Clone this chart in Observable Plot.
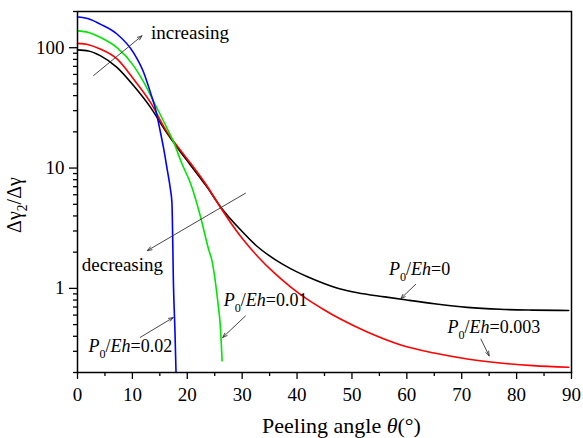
<!DOCTYPE html>
<html>
<head>
<meta charset="utf-8">
<script src="https://cdn.jsdelivr.net/npm/d3@7"></script>
<script src="https://cdn.jsdelivr.net/npm/@observablehq/plot@0.6"></script>
<style>
  body { margin: 0; background: #fff; }
  #chart svg { display: block; }
  #chart svg, #chart svg text, #chart svg tspan { font-family: "Liberation Serif", "Times New Roman", "DejaVu Serif", serif !important; }
</style>
</head>
<body>
<div id="chart"></div>
<script>
// ---- data ----
const seriesNames = ["P0/Eh=0", "P0/Eh=0.003", "P0/Eh=0.01", "P0/Eh=0.02"];
const seriesColors = ["#000000", "#ff0000", "#00e600", "#0000ff"];

const angleEh0 = [0, 2, 4.14, 7.19, 10.2, 13.27, 16.3, 18, 20.57, 23.6, 26, 29.7, 32.7, 35.8, 38.8, 41.9, 44.9, 47.9, 51, 56, 60, 65, 71, 77, 83, 89.5];
const ratioEh0 = [96, 94, 86, 68.7, 48.5, 32.1, 19.5, 15.2, 10.6, 6.95, 4.8, 3.07, 2.24, 1.76, 1.46, 1.25, 1.1, 0.99, 0.92, 0.85, 0.8, 0.745, 0.695, 0.67, 0.66, 0.655];

const angleEh0003 = [0, 2, 4.14, 7.19, 10.2, 13.27, 16.3, 18, 20.57, 23.6, 26, 29.7, 32.7, 35.8, 38.8, 41.9, 44.9, 47.9, 52.8, 58.9, 65, 71, 77, 83, 89.5];
const ratioEh0003 = [108.6, 106, 97.5, 80.7, 55, 35.3, 20, 15.6, 11.0, 7.1, 4.75, 2.71, 1.87, 1.35, 1.03, 0.81, 0.665, 0.556, 0.434, 0.339, 0.29, 0.259, 0.24, 0.228, 0.221];

const angleEh001 = [0, 2, 4.14, 7.19, 10.2, 12.04, 13.9, 16.3, 17.5, 19.05, 20.57, 22.4, 23.9, 24.5, 25.1, 25.6, 26.0, 26.35];
const ratioEh001 = [138, 134, 122, 100, 71, 52, 35.5, 21.5, 16.5, 10.8, 7.5, 3.96, 2.1, 1.7, 1.15, 0.75, 0.5, 0.25];

const angleEh002 = [0, 2, 4.14, 7.19, 10.2, 12.04, 13.27, 14.2, 15.0, 15.7, 16.3, 16.9, 17.2, 17.5, 17.75, 17.95];
const ratioEh002 = [180, 174, 157, 130, 91, 62.5, 42.7, 31, 21, 14.5, 10, 6.8, 5.2, 1.0, 0.45, 0.2];

const xMajorTicks = [0, 10, 20, 30, 40, 50, 60, 70, 80, 90];
const xMinorTicks = [5, 15, 25, 35, 45, 55, 65, 75, 85];
const yMajorTicks = [1, 10, 100];
const yMinorTicks = [0.2, 0.3, 0.4, 0.5, 0.6, 0.7, 0.8, 0.9, 2, 3, 4, 5, 6, 7, 8, 9, 20, 30, 40, 50, 60, 70, 80, 90, 200];

// annotation texts ( *..* italic, {..} subscript )
const noteTexts = ["increasing", "decreasing"];
const noteX = [13.39, 0.78];
const noteY = [132.5, 1.558];

const labelTexts = ["*P*{0}/*Eh*=0.02", "*P*{0}/*Eh*=0.01", "*P*{0}/*Eh*=0", "*P*{0}/*Eh*=0.003"];
const labelX = [2.0, 26.64, 56.75, 67.4];
const labelY = [0.3285, 0.797, 1.43, 0.474];

// arrows: start -> end (head at end)
const arrowX1 = [2.92, 30.6, 11.44, 30.6, 61.6, 73.5];
const arrowY1 = [58.7, 6.18, 0.392, 0.59, 1.08, 0.379];
const arrowX2 = [11.75, 12.72, 17.45, 26.45, 58.9, 75.0];
const arrowY2 = [125.6, 2.06, 0.573, 0.391, 0.822, 0.275];

// ---- build tables ----
const angles = [angleEh0, angleEh0003, angleEh001, angleEh002];
const ratios = [ratioEh0, ratioEh0003, ratioEh001, ratioEh002];
const rows = [];
seriesNames.forEach((s, k) => angles[k].forEach((a, i) => rows.push({series: s, angle: a, ratio: ratios[k][i]})));
const notes = noteTexts.map((t, i) => ({t, x: noteX[i], y: noteY[i]}));
const labels = labelTexts.map((t, i) => ({t, x: labelX[i], y: labelY[i]}));
const arrows = arrowX1.map((x1, i) => ({x1, y1: arrowY1[i], x2: arrowX2[i], y2: arrowY2[i]}));

const FONT = "Liberation Serif";

const chart = Plot.plot({
  width: 583,
  height: 438,
  marginLeft: 77,
  marginRight: 12,
  marginTop: 11,
  marginBottom: 66,
  style: {fontFamily: FONT, fontSize: "19px", color: "#000", background: "#fff", overflow: "visible"},
  x: {domain: [0, 90]},
  y: {type: "log", domain: [0.2, 200]},
  color: {domain: seriesNames, range: seriesColors},
  marks: [
    Plot.line(rows, {x: "angle", y: "ratio", z: "series", stroke: "series", strokeWidth: 1.6, curve: "monotone-x"}),
    Plot.arrow(arrows, {x1: "x1", y1: "y1", x2: "x2", y2: "y2", stroke: "#333", strokeWidth: 0.9, headLength: 8, headAngle: 40}),
    Plot.text(notes, {x: "x", y: "y", text: "t", textAnchor: "start", lineAnchor: "middle", fontSize: 19, fill: "#000"}),
    Plot.text(labels, {x: "x", y: "y", text: "t", textAnchor: "start", lineAnchor: "middle", fontSize: 18, fill: "#000"}),
    Plot.axisX({ticks: xMajorTicks, tickSize: 7, tickPadding: 8, tickFormat: d => String(d), label: null, strokeWidth: 1.3}),
    Plot.axisX({ticks: xMinorTicks, tickSize: 4, tickFormat: () => "", label: null, strokeWidth: 1.3}),
    Plot.axisY({ticks: yMajorTicks, tickSize: 8, tickPadding: 5, tickFormat: d => String(d), label: null, strokeWidth: 1.3}),
    Plot.axisY({ticks: yMinorTicks, tickSize: 4, tickFormat: () => "", label: null, strokeWidth: 1.3}),
    Plot.frame({stroke: "#000", strokeWidth: 1.5})
  ]
});

// rich text: *..* italic, {..} subscript
function rich(el) {
  const s = el.textContent;
  if (!/[*{]/.test(s)) return;
  const ns = "http://www.w3.org/2000/svg";
  el.textContent = "";
  let italic = false, sub = false, buf = "", pendingDy = 0;
  const size = parseFloat(el.getAttribute("font-size")) || parseFloat(getComputedStyle(el).fontSize) || 18;
  const shift = size * 0.32;
  const flush = () => {
    if (!buf) return;
    const t = document.createElementNS(ns, "tspan");
    if (italic) t.setAttribute("font-style", "italic");
    let dy = pendingDy;
    if (sub) { t.setAttribute("font-size", (size * 0.68).toFixed(1) + "px"); dy += shift; pendingDy = -shift; }
    else pendingDy = 0;
    if (dy) t.setAttribute("dy", dy.toFixed(2));
    t.textContent = buf;
    el.appendChild(t);
    buf = "";
  };
  for (const ch of s) {
    if (ch === "*") { flush(); italic = !italic; }
    else if (ch === "{") { flush(); sub = true; }
    else if (ch === "}") { flush(); sub = false; }
    else buf += ch;
  }
  flush();
}

document.getElementById("chart").appendChild(chart);
const svg = d3.select(chart);

// axis titles
svg.append("text")
  .attr("x", 341.5).attr("y", 433)
  .attr("text-anchor", "middle")
  .attr("font-size", 22)
  .attr("fill", "#000")
  .text("Peeling angle *θ*(°)");
svg.append("text")
  .attr("transform", "translate(14.5,205) rotate(-90)")
  .attr("text-anchor", "middle")
  .attr("dy", "0.32em")
  .attr("font-size", 20)
  .attr("fill", "#000")
  .text("Δγ{2}/Δγ");

chart.querySelectorAll("text").forEach(rich);
</script>
</body>
</html>
